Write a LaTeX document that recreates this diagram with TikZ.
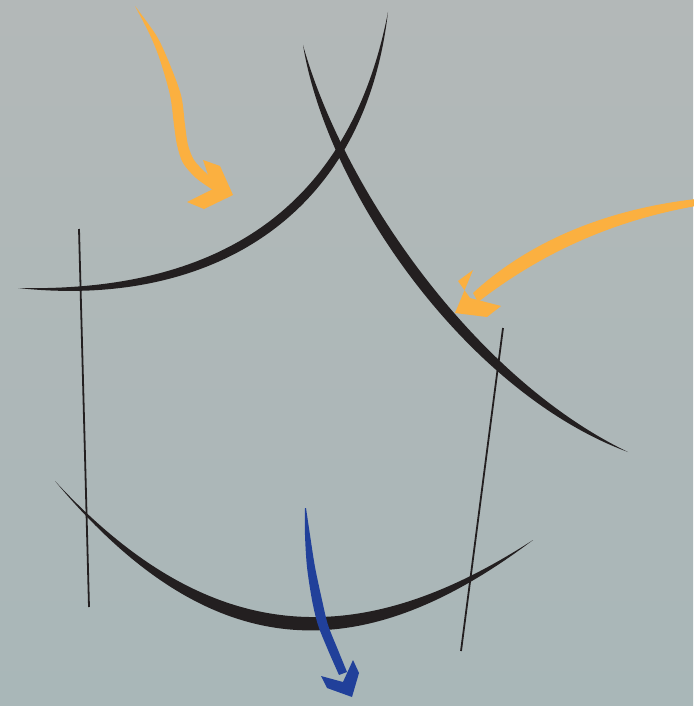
\documentclass[tikz,border=0pt]{standalone}
\definecolor{ink}{HTML}{231F20}
\definecolor{amber}{HTML}{FBB040}
\definecolor{navy}{HTML}{21409A}
\definecolor{bgtop}{HTML}{B3B8B8}
\definecolor{bgbot}{HTML}{A9B7B8}
\begin{document}
\begin{tikzpicture}[x=1pt,y=-1pt,
  brush/.style={fill=ink},
  thinline/.style={draw=ink,line width=1.8pt},
  orangefill/.style={fill=amber},
  bluefill/.style={fill=navy}]
\shade[top color=bgtop,bottom color=bgbot] (0,0) rectangle (693,706);
\useasboundingbox (0,0) rectangle (693,706);
% thin lines
\draw[thinline] (79,229) -- (89,607);
\draw[thinline] (503,328) -- (461,651);
% arc 1
\fill[brush] (18,288) .. controls (200,292) and (347,224) .. (388,12)
  .. controls (363,226) and (200,308) .. (18,288) -- cycle;
% arc 2
\fill[brush] (303,45) .. controls (342.6,187.4) and (473.1,377.6) .. (628,452)
  .. controls (466.9,392.4) and (327.4,192.6) .. (303,45) -- cycle;
% arc 3
\fill[brush] (55,481) .. controls (212,651) and (362,651) .. (533,540)
  .. controls (362,669) and (212,669) .. (55,481) -- cycle;
% orange arrow 1
\fill[orangefill] plot[smooth] coordinates {(135,6) (150,35) (160,60) (170,95) (174,125) (177,145) (183,163) (196,178) (213,190)}
  -- plot[smooth] coordinates {(216,182) (205,172) (194,160) (188,145) (185,125) (181,95) (168,60) (156,35) (135,6)} -- cycle;
\fill[orangefill] (233,195) -- (204,209) -- (187,202) -- (213,189) -- (203,160) -- (220,166) -- cycle;
% orange arrow 2
\fill[orangefill] (696,199) .. controls (600,210) and (525,245) .. (473,293)
  -- (478,302) .. controls (535,258) and (605,222) .. (696,206) -- cycle;
\fill[orangefill] (455,313) -- (487,317) -- (501,306) -- (470,298) -- (458,281) -- (473,270) -- cycle;
% blue arrow
\fill[bluefill] plot[smooth] coordinates {(305,508) (305,535) (307,567) (312,600) (318,625) (328,650) (339,675)}
  -- plot[smooth] coordinates {(347,672) (338,650) (328,625) (322,600) (315,567) (310,535) (306,508)} -- cycle;
\fill[bluefill] (352,697) -- (327,688) -- (321,676) -- (343,682) -- (353,660) -- (359,673) -- cycle;
\end{tikzpicture}
\end{document}
